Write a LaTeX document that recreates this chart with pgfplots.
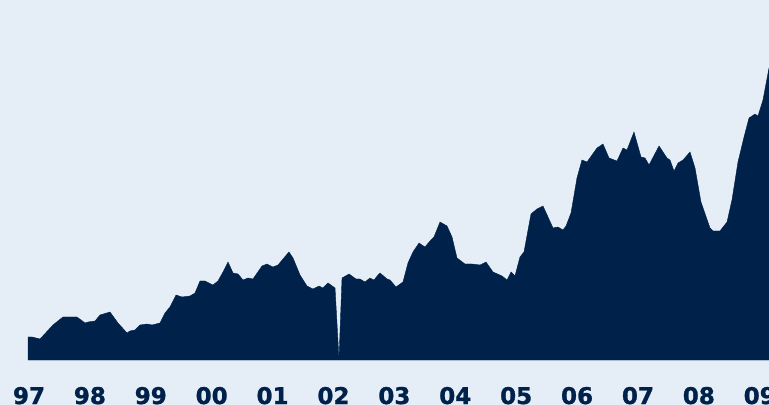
\documentclass[border=0pt]{standalone}
\usepackage{pgfplots}
\pgfplotsset{compat=1.18}
\usepackage{fontspec}
\setmainfont{DejaVu Sans}
\newfontfamily\tickfont[FakeBold=1.2]{DejaVu Sans Bold}
\definecolor{bgblue}{HTML}{E5EEF6}
\definecolor{navy}{HTML}{00214A}

\begin{document}
\begin{tikzpicture}
\useasboundingbox (0,0) rectangle (769bp,405bp);
\clip (0,0) rectangle (769bp,405bp);
\fill[bgblue] (0,0) rectangle (769bp,405bp);
\begin{axis}[
  at={(0,45bp)}, anchor=south west,
  scale only axis,
  width=769bp, height=360bp,
  xmin=1996.5238, xmax=2009.151,
  ymin=0, ymax=360,
  axis line style={draw=none},
  hide y axis,
  clip=false,
  xtick={1997,...,2009},
  xticklabels={97,98,99,00,01,02,03,04,05,06,07,08,09},
  major tick length=0pt,
  xtick pos=bottom,
  xticklabel style={anchor=base, yshift=-44bp, inner sep=0pt, text=navy,
    font=\tickfont\fontsize{23bp}{28bp}\selectfont},
]
\addplot[fill=navy, draw=navy, line width=0.4pt] coordinates {
(1996.984,23) (1997.049,23) (1997.181,21) (1997.394,35) (1997.558,43)
(1997.788,43) (1997.920,37) (1997.969,38) (1998.084,39) (1998.166,45)
(1998.330,48) (1998.461,37) (1998.609,27) (1998.658,29) (1998.741,30)
(1998.823,35) (1998.938,36) (1999.020,35) (1999.151,37) (1999.233,47)
(1999.315,53) (1999.414,65) (1999.512,63) (1999.644,64) (1999.726,67)
(1999.808,79) (1999.890,79) (2000.021,75) (2000.103,79) (2000.186,88)
(2000.268,98) (2000.350,87) (2000.432,86) (2000.514,80) (2000.596,82)
(2000.678,81) (2000.826,94) (2000.908,96) (2001.006,93) (2001.089,95)
(2001.171,101) (2001.269,108) (2001.335,102) (2001.450,85) (2001.565,74)
(2001.663,71) (2001.762,74) (2001.827,72) (2001.910,77) (2002.025,72)
(2002.090,1) (2002.140,82) (2002.255,86) (2002.369,81) (2002.435,81)
(2002.517,78) (2002.599,82) (2002.665,80) (2002.731,85) (2002.764,87)
(2002.879,81) (2002.928,80) (2003.026,73) (2003.141,78) (2003.223,97)
(2003.305,108) (2003.404,117) (2003.502,113) (2003.585,119) (2003.650,123)
(2003.749,138) (2003.864,134) (2003.946,123) (2004.028,102) (2004.159,96)
(2004.274,96) (2004.406,95) (2004.504,98) (2004.619,88) (2004.767,84)
(2004.849,80) (2004.915,88) (2004.980,84) (2005.062,103) (2005.128,108)
(2005.243,146) (2005.341,151) (2005.440,154) (2005.604,132) (2005.686,133)
(2005.768,130) (2005.818,134) (2005.900,147) (2005.998,182) (2006.080,200)
(2006.163,198) (2006.327,212) (2006.425,216) (2006.524,202) (2006.655,199)
(2006.754,212) (2006.819,210) (2006.934,228) (2007.049,203) (2007.115,202)
(2007.181,195) (2007.345,214) (2007.476,202) (2007.525,200) (2007.591,189)
(2007.657,197) (2007.739,200) (2007.854,208) (2007.936,192) (2008.034,158)
(2008.182,132) (2008.232,129) (2008.346,129) (2008.462,138) (2008.543,160)
(2008.642,198) (2008.741,223) (2008.823,242) (2008.921,246) (2008.970,244)
(2009.052,260) (2009.151,292)
} \closedcycle;
\end{axis}
\end{tikzpicture}
\end{document}
